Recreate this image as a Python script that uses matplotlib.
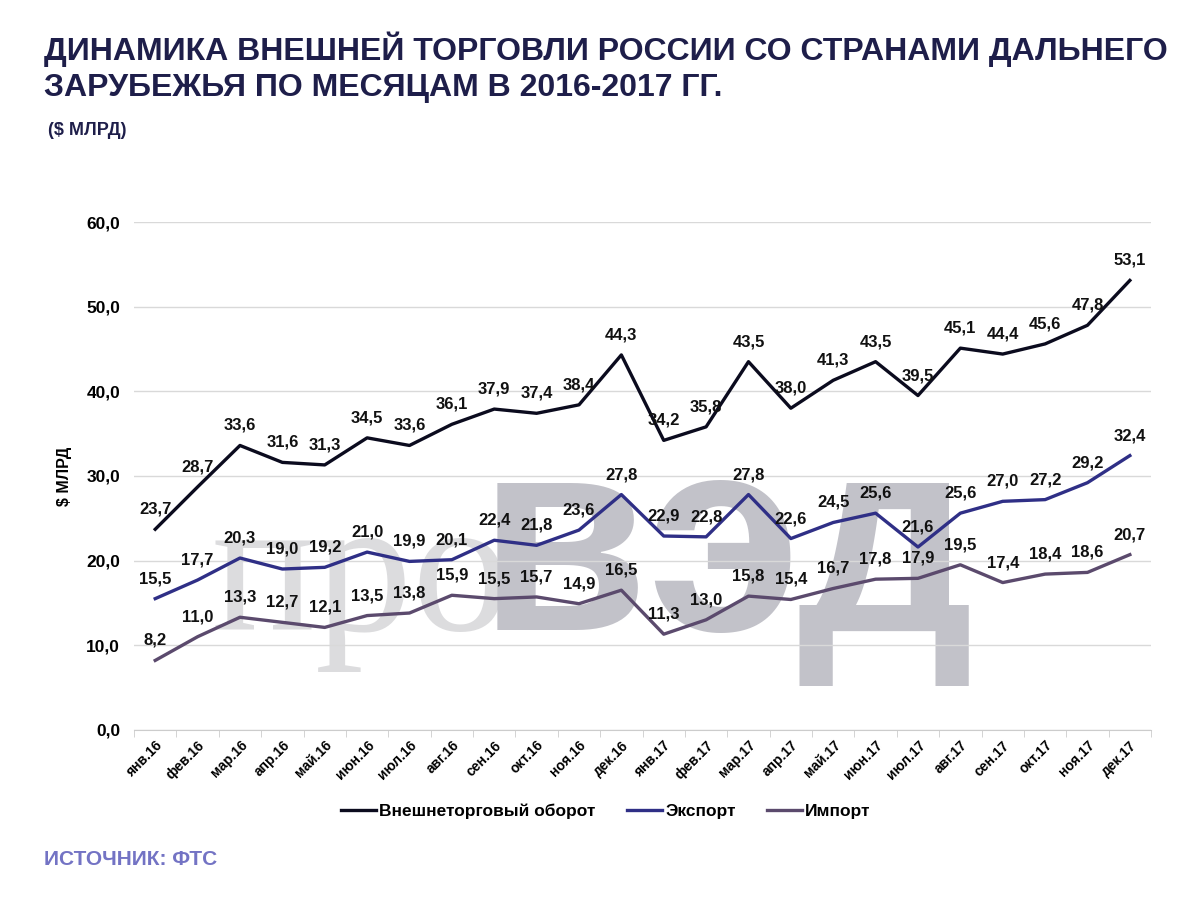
import matplotlib.pyplot as plt

plt.rcParams['font.family'] = ['Liberation Sans', 'DejaVu Sans']
plt.rcParams['font.weight'] = 'bold'

months = ["янв.16", "фев.16", "мар.16", "апр.16", "май.16", "июн.16",
          "июл.16", "авг.16", "сен.16", "окт.16", "ноя.16", "дек.16",
          "янв.17", "фев.17", "мар.17", "апр.17", "май.17", "июн.17",
          "июл.17", "авг.17", "сен.17", "окт.17", "ноя.17", "дек.17"]
turnover = [23.7, 28.7, 33.6, 31.6, 31.3, 34.5, 33.6, 36.1, 37.9, 37.4, 38.4, 44.3,
            34.2, 35.8, 43.5, 38.0, 41.3, 43.5, 39.5, 45.1, 44.4, 45.6, 47.8, 53.1]
export = [15.5, 17.7, 20.3, 19.0, 19.2, 21.0, 19.9, 20.1, 22.4, 21.8, 23.6, 27.8,
          22.9, 22.8, 27.8, 22.6, 24.5, 25.6, 21.6, 25.6, 27.0, 27.2, 29.2, 32.4]
imports = [8.2, 11.0, 13.3, 12.7, 12.1, 13.5, 13.8, 15.9, 15.5, 15.7, 14.9, 16.5,
           11.3, 13.0, 15.8, 15.4, 16.7, 17.8, 17.9, 19.5, 17.4, 18.4, 18.6, 20.7]
yticks = [0, 10, 20, 30, 40, 50, 60]

series = [
    ("Внешнеторговый оборот", turnover, "#0b0b1e"),
    ("Экспорт", export, "#2f2f86"),
    ("Импорт", imports, "#5b4a6d"),
]

fig = plt.figure(figsize=(12, 9.1), dpi=100)
ax = fig.add_axes([0.1117, 0.198, 0.8475, 0.558])

# watermark (logo behind the chart), drawn under the axes
fig.text(0.176, 0.308, "про", fontsize=140, color="#dcdcde", family="Liberation Serif",
         weight="normal", ha="left", va="baseline", zorder=-1)
fig.text(0.398, 0.308, "вэд", fontsize=200, color="#c2c2c9", family="Liberation Sans",
         weight="bold", ha="left", va="baseline", zorder=-1)

x = list(range(len(months)))
for name, vals, col in series:
    ax.plot(x, vals, color=col, lw=2.4, label=name, zorder=3)
    for xi, v in zip(x, vals):
        ax.annotate(f"{v:.1f}".replace(".", ","), (xi, v), xytext=(0, 9),
                    textcoords="offset points", ha="center", va="bottom",
                    fontsize=12, fontweight="bold", color="#111111", zorder=4)

ax.set_xlim(-0.5, len(months) - 0.5)
ax.set_ylim(0, 60)
ax.set_yticks(yticks)
ax.set_yticklabels([f"{t:.1f}".replace(".", ",") for t in yticks], fontsize=12.5)
ax.set_xticks(x)
ax.set_xticklabels(months, rotation=45, ha="right", rotation_mode="anchor", fontsize=10)
ax.set_xticks([i - 0.5 for i in range(len(months) + 1)], minor=True)
ax.tick_params(axis="x", which="major", length=0, pad=6)
ax.tick_params(axis="x", which="minor", length=5, color="#cccccc")
ax.tick_params(axis="y", length=0, pad=10)
ax.grid(axis="y", color="#d9d9d9", lw=1)
ax.set_axisbelow(True)
for s in ["top", "right", "left"]:
    ax.spines[s].set_visible(False)
ax.spines["bottom"].set_color("#cccccc")
ax.patch.set_alpha(0)
ax.set_ylabel("$ МЛРД", fontsize=11.5, fontweight="bold", labelpad=10)

ax.legend(loc="center", bbox_to_anchor=(0.464, -0.16), ncol=3, frameon=False,
          fontsize=12.5, handlelength=2.0, handletextpad=0.2, columnspacing=1.8)

fig.text(0.037, 0.965, "ДИНАМИКА ВНЕШНЕЙ ТОРГОВЛИ РОССИИ СО СТРАНАМИ ДАЛЬНЕГО\nЗАРУБЕЖЬЯ ПО МЕСЯЦАМ В 2016-2017 ГГ.",
         fontsize=23, fontweight="bold", color="#1e1e4a", va="top", ha="left", linespacing=1.25)
fig.text(0.04, 0.857, "($ МЛРД)", fontsize=13, fontweight="bold", color="#1e1e4a", va="center")
fig.text(0.037, 0.055, "ИСТОЧНИК: ФТС", fontsize=15, fontweight="bold", color="#7373c4", va="center")

fig.savefig("out.png", dpi=100)
